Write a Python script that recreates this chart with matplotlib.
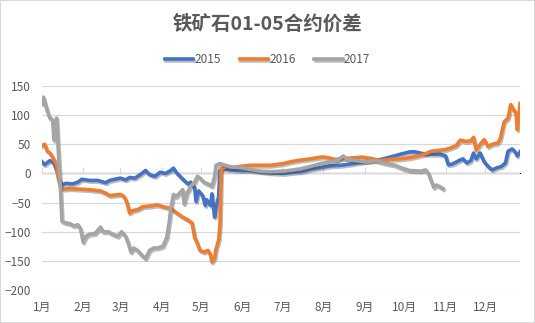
import matplotlib.pyplot as plt
import matplotlib.patheffects as pe

plt.rcParams['font.family'] = ['Noto Sans CJK SC', 'DejaVu Sans']

# day of year -> 01-05 spread
day2015 = [0, 2, 6, 9, 11, 14, 15, 18, 23, 27, 30, 36, 42, 48, 51, 55, 59, 63, 66, 70,
           74, 78, 81, 85, 89, 93, 97, 99, 101, 104, 107, 110, 112, 115, 116, 118, 121, 123,
           124, 127, 128, 130, 131, 133, 134, 137, 142, 149, 157, 164, 172, 182, 189, 195,
           202, 210, 217, 225, 232, 240, 247, 255, 262, 270, 277, 281, 285, 289, 293, 300,
           304, 306, 309, 314, 317, 320, 323, 325, 327, 330, 333, 336, 339, 343, 346, 349,
           351, 354, 356, 358, 360]
val2015 = [20, 15, 22, 18, 5, -15, -20, -17, -18, -15, -10, -12, -12, -16, -12, -10, -8, -11, -7, -8,
           -2, 5, -2, -5, 2, 0, 5, 9, 2, -5, -12, -18, -15, -25, -48, -30, -38, -55,
           -45, -55, -35, -75, -60, -40, 5, 8, 6, 5, 5, 3, 1, 0, 2, 3,
           7, 10, 13, 14, 16, 19, 22, 24, 28, 33, 37, 37, 35, 33, 33, 33,
           30, 15, 16, 22, 25, 18, 22, 35, 25, 35, 20, 12, 6, 10, 12, 18,
           38, 42, 38, 30, 37]

day2016 = [0, 2, 4, 6, 8, 11, 12, 14, 17, 21, 29, 36, 44, 48, 51, 55, 59, 62, 64, 66,
           68, 72, 76, 81, 87, 91, 97, 101, 106, 110, 113, 115, 117, 119, 122, 125, 127, 128,
           130, 131, 133, 134, 135, 139, 143, 149, 157, 164, 172, 182, 187, 195, 202, 210,
           213, 221, 230, 236, 241, 247, 255, 262, 270, 277, 285, 289, 293, 300, 304, 308,
           312, 315, 319, 323, 325, 327, 330, 333, 336, 339, 343, 345, 348, 351, 353, 355,
           357, 358, 360]
val2016 = [48, 50, 38, 35, 28, 15, -5, -25, -27, -26, -27, -28, -30, -34, -38, -37, -36, -40, -50, -68,
           -64, -62, -57, -56, -54, -57, -60, -67, -75, -80, -85, -110, -120, -132, -135, -132, -140, -152,
           -145, -130, -115, -90, 8, 12, 10, 12, 14, 14, 14, 17, 20, 23, 25, 28,
           28, 24, 26, 27, 28, 26, 22, 24, 25, 27, 31, 34, 38, 40, 41, 44,
           48, 57, 55, 56, 62, 40, 50, 58, 46, 50, 52, 58, 88, 95, 118, 110,
           103, 75, 120]

day2017 = [0, 1, 3, 5, 6, 8, 9, 11, 12, 14, 15, 18, 21, 24, 27, 29, 31, 33, 36, 40,
           44, 46, 50, 53, 57, 60, 63, 65, 67, 69, 72, 75, 78, 81, 84, 87, 91, 94,
           96, 97, 99, 101, 103, 106, 107, 109, 112, 115, 117, 119, 122, 125, 128, 130,
           131, 134, 138, 143, 149, 157, 164, 172, 182, 189, 195, 202, 210, 217, 222, 227,
           230, 236, 244, 251, 259, 266, 270, 277, 285, 289, 291, 293, 295, 297, 299, 302]
val2017 = [120, 131, 115, 100, 95, 92, 57, 95, 50, -30, -82, -85, -86, -90, -88, -95, -118, -108, -104, -103,
           -92, -100, -100, -104, -108, -100, -108, -120, -135, -128, -132, -140, -146, -132, -128, -128, -125, -110,
           -80, -60, -36, -40, -35, -28, -52, -35, -22, -15, -5, -8, -15, -18, -22, -5,
           14, 17, 14, 11, 10, 7, 4, 3, 4, 6, 8, 12, 17, 20, 22, 30,
           24, 22, 20, 22, 17, 14, 10, 5, 4, 6, 0, -12, -24, -20, -22, -26]

month_start = [0, 31, 59, 90, 120, 151, 181, 212, 243, 273, 304, 334]
month_labels = ['1月', '2月', '3月', '4月', '5月', '6月', '7月', '8月', '9月', '10月', '11月', '12月']

text_color = '#595959'
grid_color = '#D9D9D9'

fig = plt.figure(figsize=(5.35, 3.23), dpi=100, edgecolor=grid_color, linewidth=1.2)
ax = fig.add_axes([0.0785, 0.1022, 0.8935, 0.6315])

shadow = [pe.SimpleLineShadow(offset=(0.8, -1.2), shadow_color='#404040', alpha=0.35),
          pe.Normal()]
series = [(day2015, val2015, '#4472C4', '2015'),
          (day2016, val2016, '#ED7D31', '2016'),
          (day2017, val2017, '#A5A5A5', '2017')]
for d, v, c, name in series:
    ax.plot(d, v, color=c, lw=2.6, label=name, solid_joinstyle='round',
            path_effects=shadow)

ax.set_xlim(0, 360)
ax.set_ylim(-200, 150)
ax.set_yticks(range(-200, 151, 50))
ax.grid(axis='y', color=grid_color, lw=0.9)
ax.set_axisbelow(True)
for s in ax.spines.values():
    s.set_visible(False)
ax.set_xticks(month_start)
ax.set_xticklabels(month_labels)
ax.tick_params(axis='both', length=0, labelsize=8.5, labelcolor=text_color)
ax.tick_params(axis='x', pad=8)
ax.tick_params(axis='y', pad=8)

# horizontal axis line at zero carrying the month tick marks
zero_axis = ax.secondary_xaxis(200 / 350)
zero_axis.set_xticks(month_start)
zero_axis.tick_params(axis='x', direction='out', length=4, color=grid_color,
                      labelbottom=False, labeltop=False)
zero_axis.spines['bottom'].set_color(grid_color)

fig.suptitle('铁矿石01-05合约价差', x=0.5, y=0.955, fontsize=14, fontweight='bold',
             color=text_color)
fig.legend(loc='center', bbox_to_anchor=(0.5, 0.815), ncol=3, frameon=False,
           fontsize=8.5, handlelength=2.4, columnspacing=1.6, handletextpad=0.1,
           labelcolor=text_color)

fig.savefig('out.png', dpi=100)
